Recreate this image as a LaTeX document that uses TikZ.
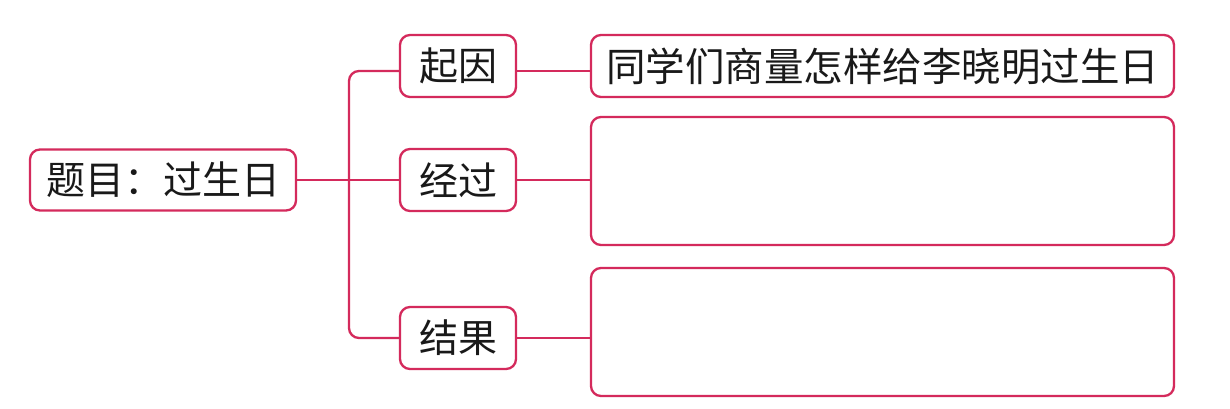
\documentclass[tikz,border=0pt]{standalone}
\usepackage{fontspec}
\newfontfamily\cjk{Noto Sans CJK SC}
\definecolor{mred}{RGB}{212,42,92}
\tikzset{
  box/.style={draw=mred, line width=2.3pt, rounded corners=10pt, fill=white,
    inner sep=0pt, font=\cjk\fontsize{39}{44}\selectfont, text=black!90},
  conn/.style={draw=mred, line width=2.3pt},
}
\begin{document}
\begin{tikzpicture}[x=1pt,y=-1pt]
\useasboundingbox (0,0) rectangle (1230,409);
\fill[white] (0,0) rectangle (1230,409);
\node[box, minimum width=266pt, minimum height=61pt] (title) at (163,180) {题目：过生日};
\node[box, minimum width=116pt, minimum height=62pt] (qy) at (458,66) {起因};
\node[box, minimum width=116pt, minimum height=62pt] (jg) at (458,180) {经过};
\node[box, minimum width=116pt, minimum height=62pt] (jj) at (458,338) {结果};
\node[box, minimum width=583pt, minimum height=62pt, font=\cjk\fontsize{39.5}{44}\selectfont] (r1) at (882.5,66) {同学们商量怎样给李晓明过生日};
\node[box, minimum width=583pt, minimum height=128pt] (r2) at (882.5,181) {};
\node[box, minimum width=583pt, minimum height=128pt] (r3) at (882.5,332) {};
\coordinate (bx) at (349,180);
\draw[conn] (title.east) -- (bx) -- (jg.west);
\draw[conn, rounded corners=10pt] ([yshift=-5pt]qy.west) -- (bx |- 0,71) -- (bx |- 0,338) -- (jj.west);
\draw[conn] ([yshift=-5pt]qy.east) -- (r1.west |- 0,71);
\draw[conn] (jg.east) -- (r2.west |- jg.east);
\draw[conn] (jj.east) -- (r3.west |- jj.east);
\end{tikzpicture}
\end{document}
